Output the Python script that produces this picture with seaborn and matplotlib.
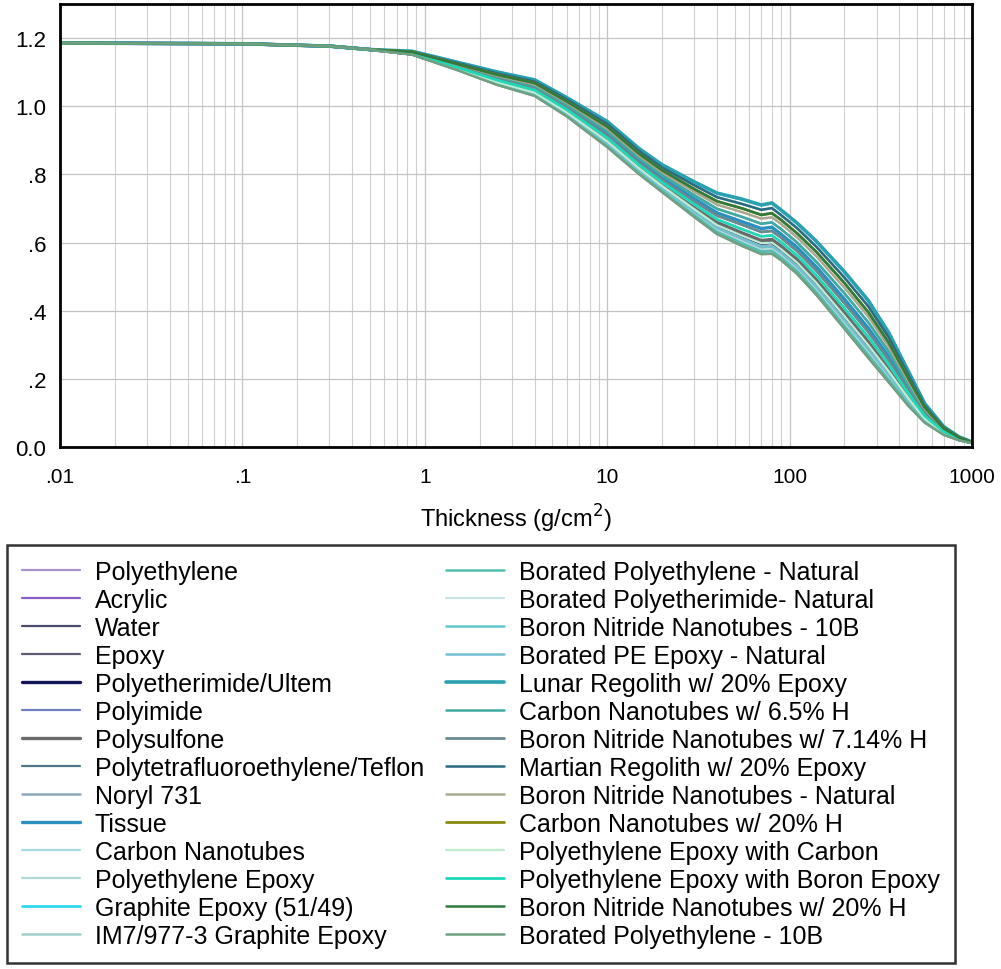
import pandas as pd
import matplotlib
matplotlib.use("Agg")
import matplotlib.pyplot as plt
import seaborn as sns
from matplotlib.ticker import FixedLocator, FixedFormatter, LogLocator, NullFormatter

# thickness grid (g/cm2); all curves share the flat start
thickness_start = [0.01, 0.1, 0.3, 0.5]
start_values = [1.185, 1.183, 1.176, 1.166]
thickness = [0.85, 1.5, 2.5, 4, 6, 10, 15, 20, 30, 40, 55, 70, 80, 90, 110, 140,
             200, 270, 350, 450, 550, 700, 850, 1000]

# values for each material (many curves overlap)
polyethylene = [1.151, 1.106, 1.062, 1.030, 0.970, 0.880, 0.800, 0.748, 0.675, 0.625, 0.590, 0.566, 0.567, 0.548, 0.508, 0.447, 0.347, 0.262, 0.190, 0.120, 0.072, 0.036, 0.020, 0.012]
acrylic = [1.152, 1.107, 1.064, 1.032, 0.973, 0.884, 0.804, 0.752, 0.680, 0.631, 0.597, 0.573, 0.575, 0.555, 0.516, 0.455, 0.355, 0.270, 0.197, 0.125, 0.075, 0.037, 0.021, 0.012]
water = [1.152, 1.108, 1.066, 1.035, 0.976, 0.888, 0.808, 0.756, 0.685, 0.637, 0.604, 0.580, 0.582, 0.563, 0.523, 0.463, 0.364, 0.279, 0.205, 0.130, 0.078, 0.038, 0.021, 0.012]
epoxy = [1.153, 1.110, 1.068, 1.037, 0.978, 0.891, 0.811, 0.760, 0.691, 0.643, 0.611, 0.588, 0.589, 0.570, 0.530, 0.471, 0.372, 0.287, 0.212, 0.135, 0.080, 0.040, 0.022, 0.013]
ultem = [1.153, 1.111, 1.070, 1.040, 0.982, 0.897, 0.817, 0.766, 0.698, 0.651, 0.620, 0.598, 0.600, 0.580, 0.541, 0.482, 0.384, 0.299, 0.222, 0.142, 0.084, 0.041, 0.022, 0.013]
polyimide = [1.154, 1.112, 1.073, 1.043, 0.985, 0.901, 0.821, 0.770, 0.704, 0.659, 0.628, 0.606, 0.609, 0.589, 0.550, 0.491, 0.394, 0.309, 0.231, 0.148, 0.088, 0.043, 0.023, 0.013]
polysulfone = [1.154, 1.112, 1.073, 1.043, 0.985, 0.901, 0.821, 0.770, 0.704, 0.659, 0.628, 0.606, 0.609, 0.589, 0.550, 0.491, 0.394, 0.309, 0.231, 0.148, 0.088, 0.043, 0.023, 0.013]
teflon = [1.156, 1.116, 1.079, 1.051, 0.995, 0.914, 0.834, 0.784, 0.721, 0.679, 0.652, 0.631, 0.634, 0.614, 0.575, 0.518, 0.422, 0.338, 0.255, 0.165, 0.097, 0.047, 0.025, 0.013]
noryl = [1.153, 1.110, 1.068, 1.037, 0.978, 0.891, 0.811, 0.760, 0.691, 0.643, 0.611, 0.588, 0.589, 0.570, 0.530, 0.471, 0.372, 0.287, 0.212, 0.135, 0.080, 0.040, 0.022, 0.013]
tissue = [1.156, 1.118, 1.082, 1.054, 0.999, 0.919, 0.839, 0.790, 0.729, 0.687, 0.661, 0.641, 0.645, 0.624, 0.586, 0.529, 0.434, 0.349, 0.265, 0.172, 0.101, 0.049, 0.025, 0.014]
carbon_nt = [1.160, 1.127, 1.096, 1.072, 1.020, 0.948, 0.868, 0.820, 0.768, 0.733, 0.713, 0.696, 0.701, 0.680, 0.642, 0.588, 0.497, 0.413, 0.321, 0.210, 0.122, 0.058, 0.029, 0.015]
pe_epoxy = [1.152, 1.108, 1.066, 1.035, 0.976, 0.888, 0.808, 0.756, 0.685, 0.637, 0.604, 0.580, 0.582, 0.563, 0.523, 0.463, 0.364, 0.279, 0.205, 0.130, 0.078, 0.038, 0.021, 0.012]
graphite_epoxy = [1.161, 1.129, 1.100, 1.077, 1.025, 0.955, 0.875, 0.828, 0.778, 0.745, 0.727, 0.710, 0.716, 0.695, 0.657, 0.604, 0.514, 0.430, 0.335, 0.220, 0.128, 0.060, 0.030, 0.015]
im7_epoxy = [1.160, 1.127, 1.096, 1.072, 1.020, 0.948, 0.868, 0.820, 0.768, 0.733, 0.713, 0.696, 0.701, 0.680, 0.642, 0.588, 0.497, 0.413, 0.321, 0.210, 0.122, 0.058, 0.029, 0.015]
borated_pe_nat = [1.152, 1.107, 1.064, 1.032, 0.973, 0.884, 0.804, 0.752, 0.680, 0.631, 0.597, 0.573, 0.575, 0.555, 0.516, 0.455, 0.355, 0.270, 0.197, 0.125, 0.075, 0.037, 0.021, 0.012]
borated_pei_nat = [1.155, 1.114, 1.076, 1.047, 0.990, 0.907, 0.827, 0.777, 0.712, 0.668, 0.639, 0.618, 0.621, 0.601, 0.562, 0.504, 0.407, 0.323, 0.242, 0.156, 0.092, 0.045, 0.024, 0.013]
bnnt_10b = [1.157, 1.120, 1.086, 1.059, 1.004, 0.927, 0.847, 0.798, 0.739, 0.699, 0.675, 0.655, 0.659, 0.639, 0.600, 0.544, 0.451, 0.366, 0.280, 0.182, 0.107, 0.051, 0.026, 0.014]
borated_pe_epoxy = [1.153, 1.110, 1.068, 1.037, 0.978, 0.891, 0.811, 0.760, 0.691, 0.643, 0.611, 0.588, 0.589, 0.570, 0.530, 0.471, 0.372, 0.287, 0.212, 0.135, 0.080, 0.040, 0.022, 0.013]
lunar_regolith = [1.161, 1.129, 1.100, 1.077, 1.025, 0.955, 0.875, 0.828, 0.778, 0.745, 0.727, 0.710, 0.716, 0.695, 0.657, 0.604, 0.514, 0.430, 0.335, 0.220, 0.128, 0.060, 0.030, 0.015]
cnt_6_5h = [1.157, 1.120, 1.086, 1.059, 1.004, 0.927, 0.847, 0.798, 0.739, 0.699, 0.675, 0.655, 0.659, 0.639, 0.600, 0.544, 0.451, 0.366, 0.280, 0.182, 0.107, 0.051, 0.026, 0.014]
bnnt_7_14h = [1.156, 1.116, 1.079, 1.051, 0.995, 0.914, 0.834, 0.784, 0.721, 0.679, 0.652, 0.631, 0.634, 0.614, 0.575, 0.518, 0.422, 0.338, 0.255, 0.165, 0.097, 0.047, 0.025, 0.013]
martian_regolith = [1.160, 1.127, 1.096, 1.072, 1.020, 0.948, 0.868, 0.820, 0.768, 0.733, 0.713, 0.696, 0.701, 0.680, 0.642, 0.588, 0.497, 0.413, 0.321, 0.210, 0.122, 0.058, 0.029, 0.015]
bnnt_nat = [1.158, 1.123, 1.089, 1.064, 1.010, 0.934, 0.854, 0.806, 0.749, 0.711, 0.689, 0.670, 0.674, 0.654, 0.615, 0.560, 0.467, 0.383, 0.294, 0.192, 0.112, 0.053, 0.027, 0.014]
cnt_20h = [1.159, 1.124, 1.092, 1.068, 1.014, 0.940, 0.860, 0.812, 0.757, 0.721, 0.700, 0.681, 0.686, 0.666, 0.627, 0.573, 0.481, 0.396, 0.306, 0.200, 0.117, 0.055, 0.028, 0.014]
pe_epoxy_carbon = [1.153, 1.111, 1.070, 1.040, 0.982, 0.897, 0.817, 0.766, 0.698, 0.651, 0.620, 0.598, 0.600, 0.580, 0.541, 0.482, 0.384, 0.299, 0.222, 0.142, 0.084, 0.041, 0.022, 0.013]
pe_epoxy_boron = [1.155, 1.114, 1.076, 1.047, 0.990, 0.907, 0.827, 0.777, 0.712, 0.668, 0.639, 0.618, 0.621, 0.601, 0.562, 0.504, 0.407, 0.323, 0.242, 0.156, 0.092, 0.045, 0.024, 0.013]
bnnt_20h = [1.159, 1.124, 1.092, 1.068, 1.014, 0.940, 0.860, 0.812, 0.757, 0.721, 0.700, 0.681, 0.686, 0.666, 0.627, 0.573, 0.481, 0.396, 0.306, 0.200, 0.117, 0.055, 0.028, 0.014]
borated_pe_10b = [1.151, 1.106, 1.062, 1.030, 0.970, 0.880, 0.800, 0.748, 0.675, 0.625, 0.590, 0.566, 0.567, 0.548, 0.508, 0.447, 0.347, 0.262, 0.190, 0.120, 0.072, 0.036, 0.020, 0.012]

materials = [
    "Polyethylene", "Acrylic", "Water", "Epoxy", "Polyetherimide/Ultem",
    "Polyimide", "Polysulfone", "Polytetrafluoroethylene/Teflon", "Noryl 731",
    "Tissue", "Carbon Nanotubes", "Polyethylene Epoxy", "Graphite Epoxy (51/49)",
    "IM7/977-3 Graphite Epoxy",
    "Borated Polyethylene - Natural", "Borated Polyetherimide- Natural",
    "Boron Nitride Nanotubes - 10B", "Borated PE Epoxy - Natural",
    "Lunar Regolith w/ 20% Epoxy", "Carbon Nanotubes w/ 6.5% H",
    "Boron Nitride Nanotubes w/ 7.14% H", "Martian Regolith w/ 20% Epoxy",
    "Boron Nitride Nanotubes - Natural", "Carbon Nanotubes w/ 20% H",
    "Polyethylene Epoxy with Carbon", "Polyethylene Epoxy with Boron Epoxy",
    "Boron Nitride Nanotubes w/ 20% H", "Borated Polyethylene - 10B",
]
series = [
    polyethylene, acrylic, water, epoxy, ultem, polyimide, polysulfone, teflon,
    noryl, tissue, carbon_nt, pe_epoxy, graphite_epoxy, im7_epoxy,
    borated_pe_nat, borated_pei_nat, bnnt_10b, borated_pe_epoxy, lunar_regolith,
    cnt_6_5h, bnnt_7_14h, martian_regolith, bnnt_nat, cnt_20h, pe_epoxy_carbon,
    pe_epoxy_boron, bnnt_20h, borated_pe_10b,
]
colors = [
    "#a890c8", "#8a5cc8", "#4a4a6a", "#5a5a70", "#14145a", "#6f7fc0", "#6a6a6a",
    "#4f7888", "#8fa8c0", "#2a90c0", "#a8d8e0", "#b0d8d8", "#30d8f0", "#a0cccc",
    "#50c0b0", "#c8e4e4", "#60c8d0", "#70c0d0", "#2aa0b0", "#40a8a0", "#6a8890",
    "#2a6a80", "#a8a890", "#8a8a10", "#c0ecd0", "#20d8b8", "#307a40", "#70a080",
]
widths = [1.6, 1.6, 1.6, 1.6, 2.4, 1.6, 2.4, 1.6, 1.8, 2.4, 1.6, 1.6, 2.0, 1.8,
          1.8, 1.6, 1.8, 1.8, 2.6, 1.8, 2.0, 1.8, 1.8, 2.0, 1.6, 2.0, 1.8, 1.8]

# long-form table for seaborn
rows = []
for name, vals in zip(materials, series):
    for t, v in zip(thickness_start + thickness, start_values + vals):
        rows.append({"material": name, "thickness": t, "value": v})
df = pd.DataFrame(rows)

sns.set_theme(style="white")
plt.rcParams["font.family"] = ["Liberation Sans", "DejaVu Sans"]
plt.rcParams["text.color"] = "black"
plt.rcParams["axes.labelcolor"] = "black"

fig = plt.figure(figsize=(10.01, 9.70), dpi=100)
ax = fig.add_axes([0.060, 0.538, 0.911, 0.457])

for name, color, lw in zip(materials, colors, widths):
    sns.lineplot(data=df[df["material"] == name], x="thickness", y="value",
                 color=color, linewidth=lw, label=name, ax=ax, legend=False)

ax.set_xscale("log")
ax.set_xlim(0.01, 1000)
ax.set_ylim(0, 1.3)

ax.xaxis.set_major_locator(FixedLocator([0.01, 0.1, 1, 10, 100, 1000]))
ax.xaxis.set_major_formatter(FixedFormatter([".01", ".1", "1", "10", "100", "1000"]))
ax.xaxis.set_minor_locator(LogLocator(base=10, subs=range(2, 10)))
ax.xaxis.set_minor_formatter(NullFormatter())
ax.yaxis.set_major_locator(FixedLocator([0, 0.2, 0.4, 0.6, 0.8, 1.0, 1.2]))
ax.yaxis.set_major_formatter(FixedFormatter(["0.0", ".2", ".4", ".6", ".8", "1.0", "1.2"]))

ax.grid(which="major", color="#c4c4c4", linewidth=0.9)
ax.grid(which="minor", axis="x", color="#d0d0d0", linewidth=0.8)
ax.tick_params(axis="both", which="major", direction="out", length=8, width=1.6,
               colors="black", labelsize=15)
ax.tick_params(axis="x", which="minor", length=0)
ax.tick_params(axis="x", which="major", pad=6)
ax.tick_params(axis="y", which="major", pad=2, labelsize=16)
for sp in ax.spines.values():
    sp.set_color("black")
    sp.set_linewidth(2.0)

ax.set_xlabel("Thickness (g/cm$^2$)", fontsize=17, labelpad=12)
ax.set_ylabel("")

handles, labels = ax.get_legend_handles_labels()
leg = fig.legend(handles, labels, loc="upper left", ncol=2,
                 bbox_to_anchor=(0.007, 0.4371), borderaxespad=0, fontsize=18,
                 frameon=True, fancybox=False, edgecolor="black",
                 handlelength=2.3, handletextpad=0.6, labelspacing=0.16,
                 borderpad=0.6, columnspacing=0.9)
leg.get_frame().set_linewidth(1.8)

fig.savefig("out.png", dpi=100)
